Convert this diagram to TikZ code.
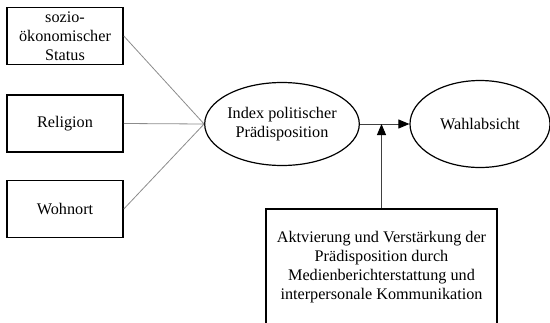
\documentclass[tikz,border=0pt]{standalone}
\usepackage{fontspec}
\setmainfont{Liberation Serif}
\usetikzlibrary{shapes.geometric,arrows.meta}

\begin{document}
\begin{tikzpicture}[x=1pt,y=-1pt,
		box/.style={draw,line width=1.6pt,minimum width=116pt,minimum height=57pt,align=center,inner sep=0pt},
		oval/.style={ellipse,draw,line width=1.2pt,align=center,inner sep=0pt},
		feed/.style={draw=black!45,line width=0.8pt},
		flow/.style={draw=black!75,line width=0.9pt,-{Triangle[length=11pt,width=9pt,black]}},
		font=\fontsize{16.2}{19}\selectfont]
		\clip (0,0) rectangle (550,322);
		%
		\node[box] (ses) at (65,36) {sozio-\\ökonomischer\\Status};
		\node[box] (rel) at (65,123.5) {Religion};
		\node[box] (ort) at (65,209) {Wohnort};
		\node[oval,minimum width=146pt,minimum height=83pt] (ip) at (282,124) {Index politischer\\Prädisposition};
		\node[oval,minimum width=140pt,minimum height=87pt] (wa) at (480,124) {Wahlabsicht};
		\node[box,minimum width=231pt,minimum height=116pt] (akt) at (381.5,267) {Aktvierung und Verstärkung der\\Prädisposition durch\\Medienberichterstattung und\\interpersonale Kommunikation};
		%
		\path[feed]
		(ses.east) -- (ip.west)
		(rel.east) -- (ip.west)
		(ort.east) -- (ip.west);
		%
		\draw[flow] (ip.east) -- (wa.west);
		\draw[flow] (akt.north) -- (akt.north |- ip.east);
	\end{tikzpicture}
\end{document}
